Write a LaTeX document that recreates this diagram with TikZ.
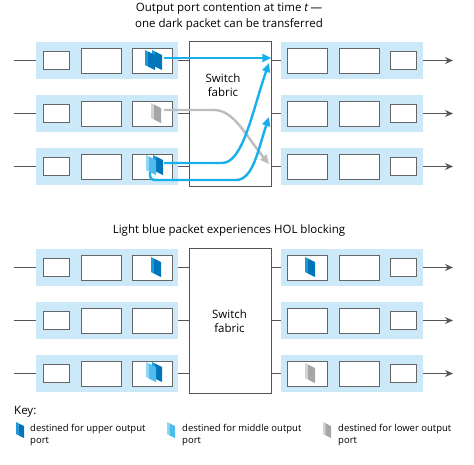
\documentclass[tikz,border=0pt]{standalone}
\usepackage{fontspec}
\setmainfont{Open Sans}
\usetikzlibrary{arrows.meta}

\definecolor{portblue}{HTML}{CCE9F9}
\definecolor{boxgray}{HTML}{666666}
\definecolor{linegray}{HTML}{555555}
\definecolor{flowblue}{HTML}{18B0EC}
\definecolor{flowgray}{HTML}{BDBDBD}
\definecolor{upface}{HTML}{1A9BD7}
\definecolor{upside}{HTML}{0075BC}
\definecolor{midface}{HTML}{8ED6F4}
\definecolor{midside}{HTML}{4FBDEB}
\definecolor{lowface}{HTML}{D2D2D2}
\definecolor{lowside}{HTML}{A6A6A6}

% packet slab: top-left x, y, face colour, side colour
\newcommand\pkt[4]{%
  \fill[#3] (#1,#2) -- ++(3,1.5) -- ++(0,15) -- ++(-3,-1.5) -- cycle;
  \fill[#4] (#1+3,#2+1.5) -- ++(7,3.5) -- ++(0,15) -- ++(-7,-3.5) -- cycle;}

\tikzset{
  port/.style={fill=portblue, minimum width=142, minimum height=37, inner sep=0},
  sbuf/.style={draw=boxgray, fill=white, line width=0.9, minimum width=26, minimum height=18, inner sep=0},
  mbuf/.style={draw=boxgray, fill=white, line width=0.9, minimum width=40, minimum height=25, inner sep=0},
  fabric/.style={draw=linegray, fill=white, line width=0.9, minimum width=82, minimum height=145, inner sep=0},
  link/.style={draw=linegray, line width=1.1},
  flow/.style={draw=flowblue, line width=2.4, -{Triangle[length=9,width=8]}},
  lowflow/.style={draw=flowgray, line width=2.4, -{Triangle[length=9,width=8]}},
  keytext/.style={anchor=north west, align=left, inner sep=0, font=\fontsize{9.5}{12}\selectfont},
}

\begin{document}
\begin{tikzpicture}[x=1pt,y=-1pt,font=\fontsize{11.5}{14}\selectfont]
\useasboundingbox (0,0) rectangle (474,464);

% titles
\node (title1) at (229,9) {Output port contention at time \textit{t}\,—};
\node (title2) at (229,24) {one dark packet can be transferred};
\node (title3) at (229,231) {Light blue packet experiences HOL blocking};

% switch fabrics
\node[fabric] (fab1) at (230,113.5) {};
\node[fabric] (fab2) at (230,320.5) {};
\node[align=center] (sw1) at (223,85) {Switch\\fabric};
\node[align=center] (sw2) at (229.5,321) {Switch\\fabric};

% input and output ports
\foreach \r/\y/\f in {1/60.5/fab1,2/113.5/fab1,3/166.5/fab1,4/267.5/fab2,5/320.5/fab2,6/373.5/fab2}{
  \node[port] (in\r) at (107,\y) {};
  \node[sbuf] (ins\r) at (56,\y) {};
  \node[mbuf] (inm\r) at (101,\y) {};
  \node[mbuf] (inh\r) at (152,\y) {};
  \node[port] (out\r) at (352,\y) {};
  \node[mbuf] (outh\r) at (307.5,\y) {};
  \node[mbuf] (outm\r) at (359,\y) {};
  \node[sbuf] (outs\r) at (403.5,\y) {};
  \coordinate (src\r) at (14,\y);
  \coordinate (dst\r) at (453,\y);
  \draw[link] (src\r) -- (in\r.west);
  \draw[link] (in\r.east) -- (in\r.east -| \f.west);
  \draw[link] (\f.east |- out\r.west) -- (out\r.west);
  \draw[link,-{Stealth[length=8,width=7]}] (out\r.east) -- (dst\r);
}

% top: packets
\pkt{152}{50}{upface}{upside}
\pkt{145}{50}{upface}{upside}
\pkt{151}{103}{lowface}{lowside}
\pkt{153}{155}{upface}{upside}
\pkt{146}{155}{midface}{midside}

% top: transfers
\coordinate (p1) at (164,58);
\coordinate (p2) at (164,163);
\coordinate (p3) at (150,172);
\coordinate (p4) at (164,110);
\coordinate (q2) at (269,63);
\coordinate (q3) at (269,117);
\coordinate (q4) at (269,164);
\draw[lowflow] (p4) -- (214,110) .. controls (234,110) and (246,136) .. (q4);
\draw[flow] (p1) -- (fab1.east |- p1);
\draw[flow] (p2) -- (222,163) .. controls (243,163) and (252,112) .. (q2);
\draw[flow] (p3) .. controls (150,180) .. (162,180) -- (236,180) .. controls (253,180) and (258,150) .. (q3);

% bottom: packets
\pkt{151}{257}{upface}{upside}
\pkt{305}{257}{upface}{upside}
\pkt{152}{362}{upface}{upside}
\pkt{146}{362}{midface}{midside}
\pkt{305}{363}{lowface}{lowside}

% key
\node[anchor=west,inner sep=0] (key) at (14,412) {Key:};
\begin{scope}[shift={(16,422)},scale=0.8]
  \pkt{0}{0}{upface}{upside}
\end{scope}
\begin{scope}[shift={(167,422)},scale=0.8]
  \pkt{0}{0}{midface}{midside}
\end{scope}
\begin{scope}[shift={(323,422)},scale=0.8]
  \pkt{0}{0}{lowface}{lowside}
\end{scope}
\node[keytext] (key1) at (30,424) {destined for upper output\\port};
\node[keytext] (key2) at (182,424) {destined for middle output\\port};
\node[keytext] (key3) at (338,424) {destined for lower output\\port};
\end{tikzpicture}
\end{document}
